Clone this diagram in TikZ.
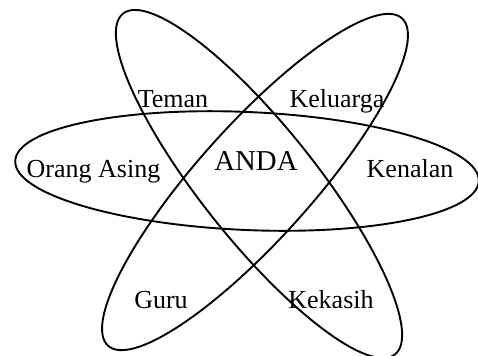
\documentclass[tikz,border=0pt]{standalone}
\usepackage{fontspec}
\setmainfont{Liberation Serif}
\begin{document}
\begin{tikzpicture}[x=0.5pt,y=-0.5pt,
  orbit/.style={draw=black,line width=0.95pt},
  lbl/.style={anchor=base,inner sep=0pt,font=\fontsize{13}{15}\selectfont},
  centrelbl/.style={anchor=base,inner sep=0pt,font=\fontsize{14.4}{17}\selectfont}]
\useasboundingbox (0,0) rectangle (478,355);
% three crossing orbits
\draw[orbit,shift={(247,171)},rotate=-2.5] (0,0) ellipse [x radius=232, y radius=59];
\draw[orbit,shift={(259,184)},rotate=-51.4] (0,0) ellipse [x radius=218, y radius=57];
\draw[orbit,shift={(255,182)},rotate=48.1] (0,0) ellipse [x radius=220, y radius=57];
% labels
\node[centrelbl] (anda) at (256,170) {ANDA};
\node[lbl] (teman) at (173,107) {Teman};
\node[lbl] (keluarga) at (337,107) {Keluarga};
\node[lbl] (asing) at (93.5,177) {Orang Asing};
\node[lbl] (kenalan) at (410,177) {Kenalan};
\node[lbl] (guru) at (161,308) {Guru};
\node[lbl] (kekasih) at (331,308) {Kekasih};
\end{tikzpicture}
\end{document}
